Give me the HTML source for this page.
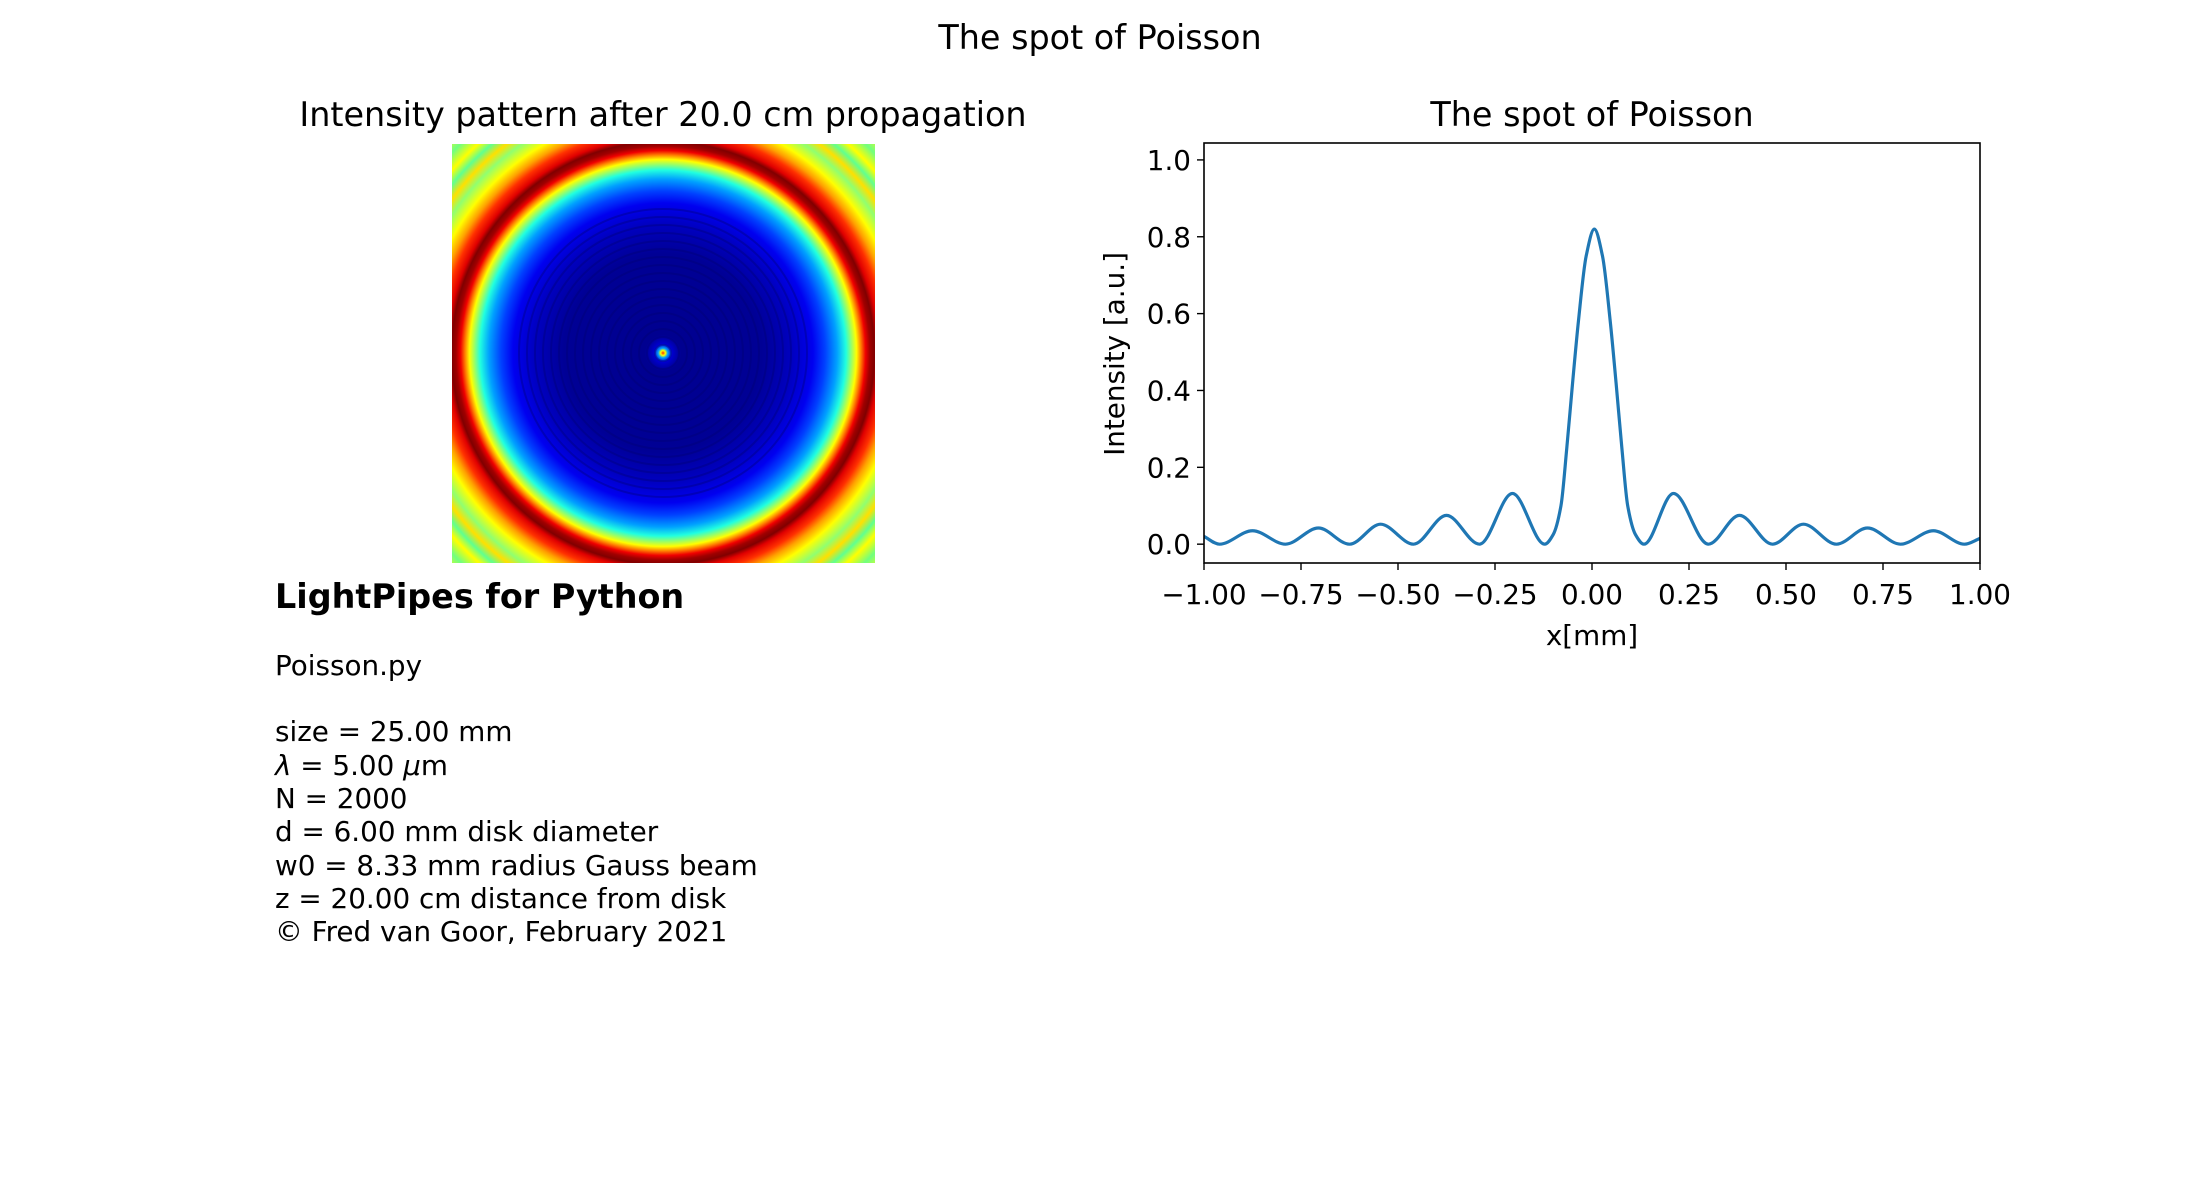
<!DOCTYPE html>
<html><head><meta charset="utf-8">
<style>
html,body{margin:0;padding:0;background:#fff;}
svg{display:block;font-family:"DejaVu Sans","Liberation Sans",sans-serif;}
</style></head>
<body>
<svg width="2200" height="1200" viewBox="0 0 2200 1200" xmlns="http://www.w3.org/2000/svg">
<defs>
<radialGradient id="jet" gradientUnits="userSpaceOnUse" cx="663" cy="353" r="300">
<stop offset="0" stop-color="#ff3000"/>
<stop offset="0.008" stop-color="#ffff00"/>
<stop offset="0.016" stop-color="#00a0ff"/>
<stop offset="0.03" stop-color="#0000d0"/>
<stop offset="0.06" stop-color="#000090"/>
<stop offset="0.33" stop-color="#000095"/>
<stop offset="0.43" stop-color="#0000c0"/>
<stop offset="0.5" stop-color="#0000f0"/>
<stop offset="0.54" stop-color="#0040ff"/>
<stop offset="0.58" stop-color="#00a0ff"/>
<stop offset="0.61" stop-color="#20ffe0"/>
<stop offset="0.63" stop-color="#a0ff60"/>
<stop offset="0.645" stop-color="#ffff00"/>
<stop offset="0.66" stop-color="#ff8000"/>
<stop offset="0.675" stop-color="#f00000"/>
<stop offset="0.69" stop-color="#a00000"/>
<stop offset="0.705" stop-color="#800000"/>
<stop offset="0.72" stop-color="#e00000"/>
<stop offset="0.745" stop-color="#ff3000"/>
<stop offset="0.77" stop-color="#ffa000"/>
<stop offset="0.8" stop-color="#ffff00"/>
<stop offset="0.84" stop-color="#90ff70"/>
<stop offset="0.87" stop-color="#ffe000"/>
<stop offset="0.9" stop-color="#60ff90"/>
<stop offset="0.93" stop-color="#ffff00"/>
<stop offset="0.97" stop-color="#70ff80"/>
<stop offset="1" stop-color="#c0ff40"/>
</radialGradient>
<clipPath id="imgclip"><rect x="452" y="144" width="423" height="419"/></clipPath>
</defs>

<text x="1100" y="49" font-size="33.4" text-anchor="middle">The spot of Poisson</text>

<!-- Left panel -->
<text x="663" y="126" font-size="33.4" text-anchor="middle">Intensity pattern after 20.0 cm propagation</text>
<g clip-path="url(#imgclip)">
<rect x="452" y="144" width="423" height="419" fill="url(#jet)"/>
<g id="rings" fill="none" stroke="#000070" stroke-opacity="0.35" stroke-width="2"></g>
</g>

<g font-size="27.8">
<text x="275" y="608" font-size="33.4" font-weight="bold">LightPipes for Python</text>
<text x="275" y="675">Poisson.py</text>
<text x="275" y="741">size = 25.00 mm</text>
<text x="275" y="775"><tspan font-style="italic">λ</tspan> = 5.00 <tspan font-style="italic">μ</tspan>m</text>
<text x="275" y="808">N = 2000</text>
<text x="275" y="841">d = 6.00 mm disk diameter</text>
<text x="275" y="875">w0 = 8.33 mm radius Gauss beam</text>
<text x="275" y="908">z = 20.00 cm distance from disk</text>
<text x="275" y="941">© Fred van Goor, February 2021</text>
</g>

<!-- Right panel -->
<text x="1592" y="126" font-size="33.4" text-anchor="middle">The spot of Poisson</text>
<g id="chart"></g>
<text transform="translate(1124,354) rotate(-90)" font-size="27.8" text-anchor="middle">Intensity [a.u.]</text>
<text x="1592" y="645" font-size="27.8" text-anchor="middle">x[mm]</text>
</svg>
<script>
const xValues = [-1, -0.96, -0.875, -0.79, -0.705, -0.625, -0.545, -0.46, -0.375, -0.29, -0.205, -0.122, -0.10, -0.08, -0.065, -0.05, -0.035, -0.015, 0.006, 0.027, 0.047, 0.062, 0.077, 0.092, 0.112, 0.134, 0.21, 0.30, 0.38, 0.465, 0.545, 0.63, 0.71, 0.795, 0.88, 0.96, 1.0];
const yValues = [0.02, 0, 0.035, 0, 0.042, 0, 0.052, 0, 0.075, 0, 0.132, 0, 0.025, 0.1, 0.25, 0.42, 0.58, 0.75, 0.82, 0.75, 0.58, 0.42, 0.25, 0.1, 0.025, 0, 0.132, 0, 0.075, 0, 0.052, 0, 0.042, 0, 0.035, 0, 0.015];
const xTicks = [-1, -0.75, -0.5, -0.25, 0, 0.25, 0.5, 0.75, 1];
const xTickLabels = ["\u22121.00","\u22120.75","\u22120.50","\u22120.25","0.00","0.25","0.50","0.75","1.00"];
const yTicks = [0, 0.2, 0.4, 0.6, 0.8, 1.0];
const yTickLabels = ["0.0","0.2","0.4","0.6","0.8","1.0"];

const NS = "http://www.w3.org/2000/svg";
const L = 1204, R = 1980, T = 143, B = 563;
const xMin = -1, xMax = 1, yMin = -0.049, yMax = 1.044;
const sx = v => L + (v - xMin) / (xMax - xMin) * (R - L);
const sy = v => B - (v - yMin) / (yMax - yMin) * (B - T);
const chart = document.getElementById('chart');
function mk(tag, attrs, parent) {
  const e = document.createElementNS(NS, tag);
  for (const k in attrs) e.setAttribute(k, attrs[k]);
  (parent || chart).appendChild(e);
  return e;
}

const rings = document.getElementById('rings');
for (let r = 8; r < 150; r += 8) {
  const c = document.createElementNS(NS, 'circle');
  c.setAttribute('cx', 663); c.setAttribute('cy', 353); c.setAttribute('r', r);
  
  
  rings.appendChild(c);
}

const n = xValues.length;
const dx = [], sl = [];
for (let i = 0; i < n - 1; i++) { dx.push(xValues[i+1]-xValues[i]); sl.push((yValues[i+1]-yValues[i])/dx[i]); }
const m = [sl[0]];
for (let i = 1; i < n - 1; i++) {
  if (sl[i-1]*sl[i] <= 0) m.push(0);
  else { const w1 = 2*dx[i]+dx[i-1], w2 = dx[i]+2*dx[i-1]; m.push((w1+w2)/(w1/sl[i-1]+w2/sl[i])); }
}
m.push(sl[n-2]);
let d = `M${sx(xValues[0])},${sy(yValues[0])}`;
for (let i = 0; i < n - 1; i++) {
  const h = dx[i];
  const c1x = xValues[i] + h/3, c1y = yValues[i] + m[i]*h/3;
  const c2x = xValues[i+1] - h/3, c2y = yValues[i+1] - m[i+1]*h/3;
  d += ` C${sx(c1x)},${sy(c1y)} ${sx(c2x)},${sy(c2y)} ${sx(xValues[i+1])},${sy(yValues[i+1])}`;
}
const cp = document.createElementNS(NS, 'clipPath'); cp.setAttribute('id', 'plotclip');
mk('rect', {x: L, y: T, width: R - L, height: B - T}, cp);
chart.appendChild(cp);
const line = mk('path', {d: d, fill: 'none', stroke: '#1f77b4', 'stroke-width': 3.2, 'stroke-linejoin': 'round', 'clip-path': 'url(#plotclip)'});



const frame = mk('rect', {x: L, y: T, width: R - L, height: B - T, fill: 'none', stroke: '#000', 'stroke-width': 1.6});



xTicks.forEach((v, i) => {
  const x = sx(v);
  const t = mk('line', {x1: x, x2: x, y1: B, y2: B + 7, stroke: '#000', 'stroke-width': 1.4});
  
  
  const lb = mk('text', {x: x, y: B + 41, 'font-size': 27.8, 'text-anchor': 'middle'});
  lb.textContent = xTickLabels[i];
  
  
});
yTicks.forEach((v, i) => {
  const y = sy(v);
  const t = mk('line', {x1: L - 7, x2: L, y1: y, y2: y, stroke: '#000', 'stroke-width': 1.4});
  
  
  const lb = mk('text', {x: L - 13, y: y + 10, 'font-size': 27.8, 'text-anchor': 'end'});
  lb.textContent = yTickLabels[i];
  
  
});
</script>
</body></html>
